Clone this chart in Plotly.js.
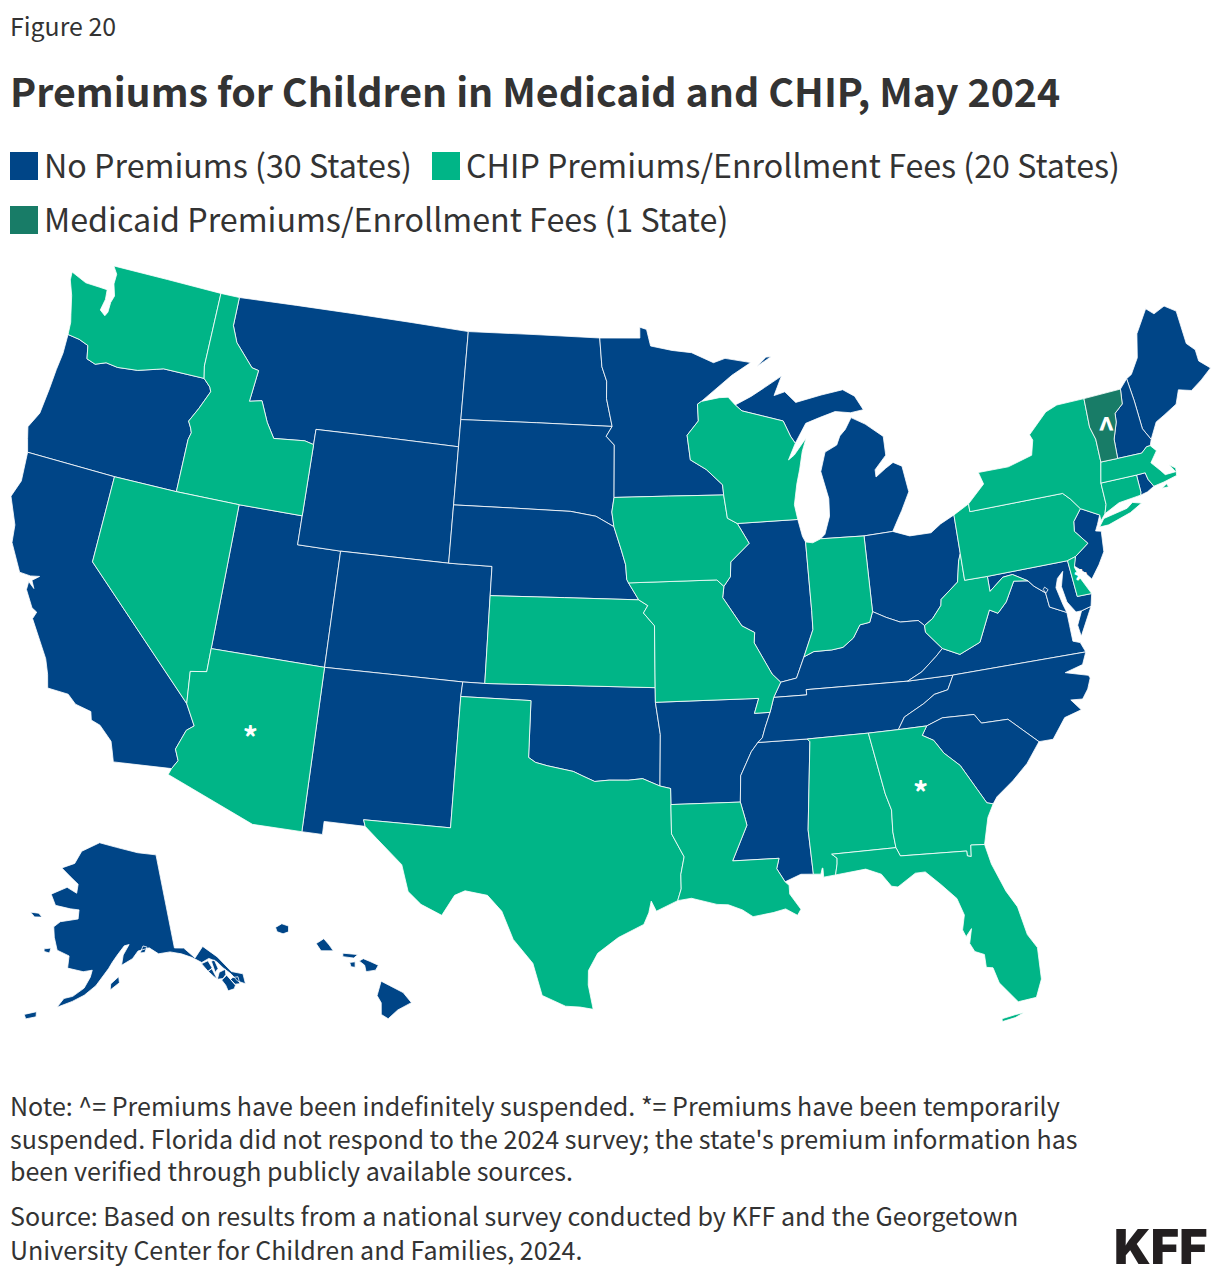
<!DOCTYPE html>
<html><head><meta charset="utf-8">
<script src="https://cdn.plot.ly/plotly-3.0.1.min.js"></script>
<style>html,body{margin:0;padding:0;background:#fff}#c{width:1220px;height:1278px}g.geo{clip-path:none !important}</style></head>
<body><div id="c"></div>
<script>
const noPremiumStates=['AK','HI','OR','CA','MT','UT','WY','CO','NM','ND','SD','NE','OK','AR','MN','MS','MI','IL','OH','KY','TN','VA','NC','SC','ME','NH','NJ','MD','DC','RI'];
const chipStates=['WA','ID','NV','AZ','TX','KS','MO','IA','WI','IN','LA','AL','GA','FL','WV','PA','NY','CT','MA','DE'];
const medicaidStates=['VT'];
const markLon=[-111.7,-83.75,-75.45,-72.68];
const markLat=[34.1,32.62,38.8,43.7];
const markText=['*','*','*','^'];
const legendLabels=['No Premiums (30 States)','CHIP Premiums/Enrollment Fees (20 States)','Medicaid Premiums/Enrollment Fees (1 State)'];
const colors=['#004587','#00B587','#187C67'];
const noteLines=["Note: ^= Premiums have been indefinitely suspended. *= Premiums have been temporarily","suspended. Florida did not respond to the 2024 survey; the state's premium information has","been verified through publicly available sources."];
const sourceLines=["Source: Based on results from a national survey conducted by KFF and the Georgetown","University Center for Children and Families, 2024."];

// Base map: state outlines in degrees [lon,lat]
const outlines={
WA:[[[-124.73,48.38],[-123.9,48.16],[-123.15,48.15],[-122.75,48.14],[-122.7,47.8],[-122.8,47.4],[-122.5,47.25],[-122.4,47.4],[-122.4,47.75],[-122.3,48.0],[-122.5,48.4],[-122.5,48.75],[-122.76,49],[-117.03,49],[-117.04,46.42],[-116.92,46],[-118.98,46],[-119.3,45.93],[-120.2,45.73],[-121.2,45.65],[-121.8,45.7],[-122.3,45.55],[-122.76,45.65],[-122.9,46.1],[-123.4,46.22],[-124,46.27],[-124.05,46.7],[-124.15,46.95],[-124.4,47.6],[-124.7,48.1]]],
OR:[[[-124,46.27],[-123.4,46.22],[-122.9,46.1],[-122.76,45.65],[-122.3,45.55],[-121.8,45.7],[-121.2,45.65],[-120.2,45.73],[-119.3,45.93],[-118.98,46],[-116.92,46],[-116.55,45.75],[-116.46,45.6],[-116.85,44.95],[-117.2,44.45],[-117.03,44.23],[-116.95,44.08],[-117.03,43.83],[-117.03,42],[-120,42],[-124.21,42],[-124.4,42.45],[-124.55,42.84],[-124.2,43.4],[-124.1,44.3],[-124.05,45],[-123.97,45.6]]],
CA:[[[-124.21,42],[-120,42],[-120,39],[-114.63,35],[-114.14,34.3],[-114.43,34.1],[-114.72,33.4],[-114.52,33.03],[-114.72,32.72],[-117.12,32.53],[-117.25,32.85],[-117.4,33.2],[-118,33.65],[-118.4,33.75],[-118.5,34.03],[-119.2,34.15],[-119.6,34.42],[-120.5,34.45],[-120.65,34.9],[-120.9,35.4],[-121.9,36.6],[-121.8,36.85],[-122.05,36.95],[-122.5,37.5],[-122.5,37.78],[-122.2,37.6],[-122.38,37.85],[-122.1,38.05],[-122.5,37.98],[-123,38],[-123.7,38.9],[-123.8,39.5],[-124.35,40.4],[-124.1,41]]],
NV:[[[-120,42],[-117.03,42],[-114.04,42],[-114.05,37],[-114.05,36.2],[-114.75,36.1],[-114.63,35],[-120,39]]],
AZ:[[[-114.72,32.72],[-114.81,32.5],[-111.07,31.33],[-109.05,31.33],[-109.05,37],[-114.05,37],[-114.05,36.2],[-114.75,36.1],[-114.63,35],[-114.14,34.3],[-114.43,34.1],[-114.72,33.4],[-114.52,33.03]]],
ID:[[[-117.03,49],[-116.05,49],[-116.05,48],[-115.7,47.45],[-114.7,46.7],[-114.35,46.65],[-114.5,45.55],[-113.9,45.65],[-113.45,44.95],[-113,44.45],[-111.5,44.55],[-111.05,44.47],[-111.05,42],[-114.04,42],[-117.03,42],[-117.03,43.83],[-116.95,44.08],[-117.03,44.23],[-117.2,44.45],[-116.85,44.95],[-116.46,45.6],[-116.55,45.75],[-116.92,46],[-117.04,46.42]]],
MT:[[[-116.05,49],[-104.05,49],[-104.05,45.94],[-104.05,45],[-111.05,45],[-111.05,44.47],[-111.5,44.55],[-113,44.45],[-113.45,44.95],[-113.9,45.65],[-114.5,45.55],[-114.35,46.65],[-114.7,46.7],[-115.7,47.45],[-116.05,48]]],
WY:[[[-111.05,45],[-104.05,45],[-104.05,43],[-104.05,41],[-109.05,41],[-111.05,41],[-111.05,42],[-111.05,44.47]]],
UT:[[[-114.04,42],[-111.05,42],[-111.05,41],[-109.05,41],[-109.05,37],[-114.05,37]]],
CO:[[[-109.05,41],[-104.05,41],[-102.05,41],[-102.05,40],[-102.04,37],[-103,37],[-109.05,37]]],
NM:[[[-109.05,37],[-103,37],[-103.04,36.5],[-103.06,32],[-106.62,32],[-106.53,31.78],[-108.21,31.78],[-108.21,31.33],[-109.05,31.33]]],
ND:[[[-104.05,49],[-97.23,49],[-97.1,48],[-96.85,47.5],[-96.85,46.9],[-96.56,45.94],[-104.05,45.94]]],
SD:[[[-104.05,45.94],[-96.56,45.94],[-96.85,45.6],[-96.45,45.3],[-96.45,43.5],[-96.55,43],[-96.45,42.5],[-97.3,42.85],[-98.5,43],[-104.05,43],[-104.05,45]]],
NE:[[[-104.05,43],[-98.5,43],[-97.3,42.85],[-96.45,42.5],[-96.1,41.7],[-95.9,41.2],[-95.85,40.7],[-95.77,40.58],[-95.31,40],[-102.05,40],[-102.05,41],[-104.05,41]]],
KS:[[[-102.05,40],[-95.31,40],[-94.9,39.8],[-95.1,39.55],[-94.61,39.11],[-94.62,37],[-102.04,37]]],
OK:[[[-103,37],[-102.04,37],[-94.62,37],[-94.62,36.5],[-94.43,35.4],[-94.48,33.64],[-95.2,33.9],[-95.8,33.85],[-96.6,33.85],[-97.2,33.8],[-97.7,33.98],[-98.1,34.13],[-99.2,34.3],[-99.7,34.4],[-100,34.56],[-100,36.5],[-103.04,36.5]]],
TX:[[[-106.62,32],[-103.06,32],[-103.04,36.5],[-100,36.5],[-100,34.56],[-99.7,34.4],[-99.2,34.3],[-98.1,34.13],[-97.7,33.98],[-97.2,33.8],[-96.6,33.85],[-95.8,33.85],[-95.2,33.9],[-94.48,33.64],[-94.04,33.55],[-94.04,33],[-94.04,32],[-93.55,31.2],[-93.7,30.6],[-93.7,30.1],[-93.85,29.7],[-94.7,29.35],[-94.9,29.7],[-95,29.3],[-95.2,28.9],[-96.2,28.45],[-97,27.9],[-97.35,27.3],[-97.35,26.8],[-97.15,25.96],[-97.65,26.03],[-98.2,26.05],[-99.1,26.4],[-99.5,27.5],[-100.3,28.3],[-100.8,29.25],[-101.4,29.77],[-102.3,29.88],[-102.7,29.7],[-103.15,28.98],[-104,29.3],[-104.55,29.7],[-104.9,30.6],[-106,31.4],[-106.53,31.78]]],
MN:[[[-97.23,49],[-95.15,49],[-95.15,49.38],[-94.8,49.3],[-94.6,48.72],[-93.5,48.55],[-92.5,48.45],[-91.4,48.07],[-90.8,48.2],[-89.5,48],[-90.5,47.6],[-92.1,46.75],[-92.3,46.66],[-92.29,46.08],[-92.87,45.6],[-92.75,44.75],[-92,44.4],[-91.25,43.85],[-91.22,43.5],[-96.45,43.5],[-96.45,45.3],[-96.85,45.6],[-96.56,45.94],[-96.85,46.9],[-96.85,47.5],[-97.1,48]]],
IA:[[[-96.45,43.5],[-91.22,43.5],[-91.1,42.7],[-90.65,42.5],[-90.15,41.8],[-91.05,41.2],[-91.1,40.7],[-91.42,40.38],[-91.73,40.61],[-95.77,40.58],[-95.85,40.7],[-95.9,41.2],[-96.1,41.7],[-96.45,42.5],[-96.55,43]]],
MO:[[[-95.77,40.58],[-91.73,40.61],[-91.42,40.38],[-91.5,40],[-90.7,39],[-90.15,38.75],[-90.2,38.4],[-89.5,37.3],[-89.15,37],[-89.5,36.5],[-89.7,36],[-90.37,36],[-90.15,36.5],[-94.62,36.5],[-94.62,37],[-94.61,39.11],[-95.1,39.55],[-94.9,39.8],[-95.31,40]]],
AR:[[[-94.62,36.5],[-90.15,36.5],[-90.37,36],[-89.7,36],[-89.95,35.5],[-90.1,35.15],[-90.3,35],[-90.6,34.7],[-91.1,33.9],[-91.17,33],[-94.04,33],[-94.04,33.55],[-94.48,33.64],[-94.43,35.4]]],
LA:[[[-94.04,33],[-91.17,33],[-91,32.4],[-90.95,32.2],[-91.6,31],[-89.73,31],[-89.85,30.65],[-89.55,30.18],[-89.4,30.05],[-89.4,29.75],[-89,29.2],[-89.15,29],[-89.6,29.25],[-90.1,29.15],[-90.9,29.05],[-91.3,29.3],[-91.85,29.5],[-92.3,29.53],[-93.3,29.77],[-93.85,29.7],[-93.7,30.1],[-93.7,30.6],[-93.55,31.2],[-94.04,32]]],
MS:[[[-91.17,33],[-91.1,33.9],[-90.6,34.7],[-90.3,35],[-88.2,35],[-88.1,34.9],[-88.47,31.9],[-88.4,30.37],[-88.9,30.4],[-89.55,30.18],[-89.85,30.65],[-89.73,31],[-91.6,31],[-90.95,32.2],[-91,32.4]]],
AL:[[[-88.2,35],[-85.6,35],[-85.18,32.87],[-85,32.3],[-85.05,31.55],[-85,31],[-87.6,31],[-87.4,30.85],[-87.42,30.65],[-87.52,30.28],[-88,30.24],[-88,30.55],[-88.03,30.55],[-88.1,30.35],[-88.4,30.37],[-88.47,31.9],[-88.1,34.9]]],
GA:[[[-85.6,35],[-84.32,35],[-83.11,35],[-83.35,34.7],[-82.9,34.48],[-82.55,34],[-81.95,33.5],[-81.4,32.6],[-81.1,32.1],[-80.85,32.03],[-81.15,31.6],[-81.45,30.7],[-82,30.75],[-82.05,30.36],[-82.2,30.4],[-82.2,30.57],[-84.86,30.7],[-85,31],[-85.05,31.55],[-85,32.3],[-85.18,32.87]]],
FL:[[[-87.52,30.28],[-87.42,30.65],[-87.4,30.85],[-87.6,31],[-85,31],[-84.86,30.7],[-82.2,30.57],[-82.2,30.4],[-82.05,30.36],[-82,30.75],[-81.45,30.7],[-81.3,30],[-80.9,29],[-80.55,28.4],[-80.35,27.4],[-80.05,26.9],[-80.1,25.8],[-80.4,25.2],[-81.1,25.15],[-81.7,25.9],[-81.85,26.45],[-82.1,26.5],[-82.1,26.95],[-82.45,27.1],[-82.6,27.4],[-82.45,27.9],[-82.7,27.65],[-82.8,27.9],[-82.65,28.4],[-82.85,29],[-83.4,29.55],[-83.95,30.05],[-84.35,30.05],[-85.1,29.65],[-85.35,29.7],[-85.7,30.15],[-86.3,30.38]],[[-81.8,24.55],[-81.3,24.62],[-80.95,24.75],[-81.3,24.72],[-81.8,24.65]]],
SC:[[[-83.11,35],[-82.4,35.2],[-81.05,35.15],[-80.8,34.82],[-79.67,34.8],[-78.55,33.86],[-79.2,33.2],[-79.9,32.7],[-80.65,32.25],[-80.85,32.03],[-81.1,32.1],[-81.4,32.6],[-81.95,33.5],[-82.55,34],[-82.9,34.48],[-83.35,34.7]]],
NC:[[[-84.32,35],[-83.11,35],[-82.4,35.2],[-81.05,35.15],[-80.8,34.82],[-79.67,34.8],[-78.55,33.86],[-77.95,33.85],[-77.3,34.5],[-76.55,34.65],[-76.9,35.05],[-76.4,35],[-76.1,35.3],[-75.9,35.65],[-75.95,35.75],[-76.9,36],[-76.1,36.15],[-75.85,36.55],[-81.68,36.59],[-82,36.12],[-82.6,36.03],[-83.1,35.77],[-84,35.4]]],
TN:[[[-90.3,35],[-88.2,35],[-85.6,35],[-84.32,35],[-84,35.4],[-83.1,35.77],[-82.6,36.03],[-82,36.12],[-81.68,36.59],[-83.67,36.6],[-88.07,36.68],[-88.07,36.5],[-89.5,36.5],[-89.7,36],[-89.95,35.5],[-90.1,35.15]]],
KY:[[[-89.5,36.5],[-88.07,36.5],[-88.07,36.68],[-83.67,36.6],[-83,36.85],[-82.3,37.3],[-81.97,37.54],[-82.6,38.17],[-82.6,38.4],[-82.85,38.6],[-83.65,38.63],[-84.25,38.85],[-84.82,39.1],[-85,38.75],[-85.45,38.7],[-85.8,38.28],[-86.3,38],[-86.8,37.95],[-87.6,37.95],[-88.05,37.8],[-88.45,37.1],[-89.15,37]]],
IL:[[[-87.8,42.49],[-90.65,42.5],[-90.15,41.8],[-91.05,41.2],[-91.1,40.7],[-91.42,40.38],[-91.5,40],[-90.7,39],[-90.15,38.75],[-90.2,38.4],[-89.5,37.3],[-89.15,37],[-88.45,37.1],[-88.05,37.8],[-87.55,38.7],[-87.53,39.35],[-87.53,41.7],[-87.65,41.9]]],
WI:[[[-90.65,42.5],[-87.8,42.49],[-87.9,43],[-87.7,43.7],[-87.5,44.2],[-87.3,44.8],[-87.05,45.25],[-87.7,44.7],[-88,44.55],[-87.6,45.1],[-87.8,45.35],[-88.1,45.9],[-89.1,46.13],[-90.1,46.35],[-90.42,46.57],[-90.75,46.85],[-91.2,46.85],[-92.1,46.75],[-92.3,46.66],[-92.29,46.08],[-92.87,45.6],[-92.75,44.75],[-92,44.4],[-91.25,43.85],[-91.22,43.5],[-91.1,42.7]]],
MI:[[[-86.82,41.76],[-84.8,41.7],[-83.45,41.73],[-83.15,42.1],[-82.9,42.4],[-82.45,43],[-82.6,43.9],[-83,44.07],[-83.4,43.9],[-83.9,43.65],[-83.9,43.9],[-83.3,44.35],[-83.3,45],[-84.1,45.5],[-84.75,45.78],[-85.1,45.4],[-85.4,45.2],[-85.6,44.9],[-86.2,44.7],[-86.5,44.05],[-86.25,43.1],[-86.3,42.5],[-86.6,41.9]],[[-90.42,46.57],[-90.1,46.35],[-89.1,46.13],[-88.1,45.9],[-87.8,45.35],[-87.6,45.1],[-87,45.75],[-86.3,45.9],[-85.5,46.05],[-84.75,45.95],[-84.1,46],[-84.45,46.5],[-85,46.77],[-86.1,46.67],[-87.4,46.5],[-87.9,46.9],[-88.45,46.8],[-88,47.45],[-88.9,47.1],[-89.6,46.83]],[[-89.2,47.85],[-88.45,48.15],[-88.7,48.15]]],
IN:[[[-87.53,41.7],[-87.2,41.65],[-86.82,41.76],[-84.8,41.7],[-84.82,39.1],[-85,38.75],[-85.45,38.7],[-85.8,38.28],[-86.3,38],[-86.8,37.95],[-87.6,37.95],[-88.05,37.8],[-87.55,38.7],[-87.53,39.35]]],
OH:[[[-84.8,41.7],[-83.45,41.73],[-82.7,41.5],[-81.7,41.5],[-81.2,41.75],[-80.52,41.98],[-80.52,40.64],[-80.65,40.4],[-80.85,39.7],[-81.7,39.2],[-81.75,39],[-82.2,38.6],[-82.6,38.4],[-82.85,38.6],[-83.65,38.63],[-84.25,38.85],[-84.82,39.1]]],
PA:[[[-80.52,41.98],[-79.76,42.27],[-79.76,42],[-75.35,42],[-75.05,41.75],[-74.7,41.36],[-75.13,40.98],[-75.2,40.65],[-74.72,40.15],[-75.4,39.8],[-75.79,39.72],[-79.48,39.72],[-80.52,39.72],[-80.52,40.64]]],
NY:[[[-79.76,42.27],[-78.9,42.85],[-79.05,43.27],[-77.6,43.27],[-76.4,43.5],[-76.2,44],[-76.3,44.2],[-75.3,44.85],[-74.7,45],[-73.34,45],[-73.4,44],[-73.25,43.55],[-73.27,42.75],[-73.5,42.05],[-73.5,41.3],[-73.65,41],[-73.9,40.8],[-73.9,41],[-74.7,41.36],[-75.05,41.75],[-75.35,42],[-79.76,42]],[[-74.03,40.6],[-73.75,40.85],[-72.6,41],[-72.3,41.15],[-71.9,41.05],[-72.5,40.83],[-73.6,40.6]]],
NJ:[[[-74.7,41.36],[-73.9,41],[-74.1,40.7],[-74.25,40.5],[-74,40.45],[-74.1,39.75],[-74.45,39.35],[-74.9,38.93],[-75.15,39.2],[-75.55,39.5],[-75.4,39.8],[-74.72,40.15],[-75.2,40.65],[-75.13,40.98]]],
DE:[[[-75.79,39.72],[-75.4,39.8],[-75.55,39.45],[-75.4,39.05],[-75.05,38.45],[-75.7,38.46]]],
MD:[[[-79.48,39.72],[-75.79,39.72],[-75.7,38.46],[-75.05,38.45],[-75.2,38.03],[-75.65,37.95],[-75.9,37.95],[-76.2,38.35],[-76.3,38.9],[-76.1,39.4],[-76.4,39.2],[-76.55,38.9],[-76.4,38.3],[-76.3,38],[-77,38.3],[-77.05,38.8],[-77.5,39.1],[-77.72,39.32],[-78.35,39.63],[-78.8,39.6],[-79.48,39.2]]],
DC:[[[-77.12,38.93],[-77.04,39],[-76.91,38.89],[-77.04,38.79]]],
VA:[[[-83.67,36.6],[-81.68,36.59],[-75.85,36.55],[-76,36.9],[-76.3,37],[-76.3,37.55],[-76.3,38],[-77,38.3],[-77.05,38.8],[-77.5,39.1],[-77.72,39.32],[-78.35,39.4],[-78.85,38.75],[-79.3,38.42],[-79.65,38.58],[-80.3,37.55],[-81.25,37.25],[-81.97,37.54],[-82.3,37.3],[-83,36.85]],[[-75.65,37.95],[-75.2,38.03],[-75.9,37.1],[-75.95,37.5]]],
WV:[[[-80.52,40.64],[-80.52,39.72],[-79.48,39.72],[-79.48,39.2],[-78.8,39.6],[-78.35,39.63],[-77.72,39.32],[-78.35,39.4],[-78.85,38.75],[-79.3,38.42],[-79.65,38.58],[-80.3,37.55],[-81.25,37.25],[-81.97,37.54],[-82.6,38.17],[-82.6,38.4],[-82.2,38.6],[-81.75,39],[-81.7,39.2],[-80.85,39.7],[-80.65,40.4]]],
CT:[[[-73.5,42.05],[-71.8,42.02],[-71.8,41.42],[-71.85,41.32],[-72.9,41.25],[-73.65,41],[-73.5,41.3]]],
RI:[[[-71.8,42.02],[-71.38,42.02],[-71.33,41.78],[-71.15,41.5],[-71.5,41.37],[-71.85,41.32],[-71.8,41.42]]],
MA:[[[-73.5,42.05],[-73.27,42.75],[-72.46,42.73],[-71.3,42.7],[-71,42.87],[-70.82,42.87],[-70.6,42.65],[-71,42.3],[-70.65,41.95],[-70.5,41.78],[-70,41.78],[-70.2,42.07],[-69.95,41.9],[-70,41.65],[-70.65,41.55],[-71.15,41.5],[-71.33,41.78],[-71.38,42.02],[-71.8,42.02]],[[-70.8,41.36],[-70.5,41.35],[-70.55,41.47]]],
VT:[[[-73.34,45],[-71.5,45.01],[-71.6,44.5],[-72.05,44.25],[-72.1,43.95],[-72.4,43.4],[-72.46,42.73],[-73.27,42.75],[-73.25,43.55],[-73.4,44]]],
NH:[[[-71.5,45.01],[-71.08,45.3],[-71,44.5],[-70.97,43.5],[-70.7,43.07],[-70.82,42.87],[-71,42.87],[-71.3,42.7],[-72.46,42.73],[-72.4,43.4],[-72.1,43.95],[-72.05,44.25],[-71.6,44.5]]],
ME:[[[-71.08,45.3],[-70.8,45.4],[-70.3,45.9],[-70,46.7],[-69.23,47.45],[-68.9,47.2],[-68.3,47.36],[-67.79,47.07],[-67.78,45.9],[-67.45,45.6],[-67.45,45.2],[-67,44.85],[-67.6,44.55],[-68.2,44.3],[-68.8,44.45],[-69.1,44],[-69.8,43.75],[-70.25,43.6],[-70.7,43.07],[-70.97,43.5],[-71,44.5]]],
AK:[[[-141,69.65],[-141,60.3],[-139.2,60.1],[-137.5,58.9],[-135.5,59.8],[-133.4,58.4],[-131.8,56.6],[-130,56],[-130.2,55],[-131.3,55.5],[-132,56.4],[-133,57.2],[-133.8,58],[-135,58.5],[-136.5,58.3],[-138,59],[-139.9,59.6],[-142,60],[-144.3,60],[-146,60.7],[-148.3,60.5],[-149.5,59.8],[-151.7,59.2],[-151.3,60.2],[-150,61.2],[-151,61.1],[-152.5,60.2],[-153.5,59.5],[-154.2,58.9],[-156.5,57.2],[-158.5,56.2],[-160.5,55.5],[-163,54.75],[-162,55.7],[-160.5,56],[-158.6,56.9],[-157.6,58],[-157.3,58.7],[-159,58.5],[-162,58.7],[-162,59.9],[-164.5,60.3],[-165.5,61.5],[-166,62.5],[-164.8,63.1],[-161,63.6],[-161,64.5],[-163,64.5],[-166.5,64.6],[-168,65.6],[-164.5,66.55],[-162,66.1],[-161.9,67],[-164,67.6],[-166.7,68.35],[-163.5,69],[-162,70.3],[-157,71.3],[-152,70.85],[-146,70.15]],[[-153.8,57.4],[-152.3,58.1],[-152.2,57.5],[-153.9,56.8]],[[-167.1,60.2],[-165.8,60.4],[-165.9,59.9],[-167,59.95]],[[-171.6,63.4],[-169.8,63.5],[-168.9,63.2],[-170.5,63.05]],[[-168.2,53.5],[-166.3,54],[-166.2,53.5],[-167.8,53.1]],[[-136.6,58.2],[-135.3,58.3],[-134.9,57.5],[-135.8,57.3]],[[-135.8,57.3],[-135,57.45],[-134.6,56.3],[-135.1,56.7]],[[-134.7,58.15],[-134.1,58.2],[-133.9,57.3],[-134.6,57]],[[-134.6,56.3],[-133.9,56.9],[-132.7,57],[-132.9,56.5],[-133.6,56.2]],[[-133.9,56.1],[-132.8,56.4],[-131.9,55.2],[-132.3,54.9],[-133.4,54.9],[-133.5,55.5]],[[-132.4,55.9],[-131.9,56],[-131,55.9],[-131.1,55.2],[-131.9,55.3]],[[-147.2,60.95],[-146.4,60.8],[-147,60.3],[-147.9,60.3]]],
HI:[[[-155.9,20.25],[-155.6,20.1],[-155.1,19.85],[-154.8,19.5],[-155.3,19.25],[-155.65,18.95],[-155.9,19.1],[-155.9,19.5],[-156.05,19.75]],[[-156.7,20.95],[-156.55,21.03],[-156.3,20.93],[-156,20.8],[-156.1,20.63],[-156.45,20.58],[-156.5,20.8]],[[-157.3,21.1],[-157.3,21.22],[-156.75,21.17],[-156.9,21.05]],[[-157.05,20.9],[-156.85,20.92],[-156.85,20.73],[-157,20.75]],[[-158.28,21.55],[-158,21.72],[-157.8,21.5],[-157.65,21.3],[-158.1,21.3]],[[-159.78,22.1],[-159.55,22.23],[-159.3,22.15],[-159.3,21.95],[-159.5,21.88],[-159.72,21.95]]]
};

// Hand the outlines to Plotly as its USA base map, since no map file can be fetched.
const arcs=[];
const geometries=Object.keys(outlines).map(id=>({type:'MultiPolygon',id,properties:{gu:'USA',name:id},arcs:outlines[id].map(ring=>{
  let r=ring.slice(),a=0;
  for(let i=0;i<r.length;i++){const p=r[i],q=r[(i+1)%r.length];a+=p[0]*q[1]-q[0]*p[1];}
  if(a>0)r.reverse();
  r.push(r[0]);arcs.push(r);return [[arcs.length-1]];
})}));
const empty={type:'GeometryCollection',geometries:[]};
window.PlotlyGeoAssets=window.PlotlyGeoAssets||{topojson:{}};
window.PlotlyGeoAssets.topojson.usa_110m={type:'Topology',arcs,objects:{subunits:{type:'GeometryCollection',geometries},land:empty,countries:empty,coastlines:empty,ocean:empty,lakes:empty,rivers:empty}};

const locations=[...noPremiumStates,...chipStates,...medicaidStates];
const z=[...noPremiumStates.map(()=>0),...chipStates.map(()=>1),...medicaidStates.map(()=>2)];
const data=[
{type:'choropleth',locationmode:'USA-states',locations,z,zmin:0,zmax:2,showscale:false,hoverinfo:'location',
 colorscale:[[0,colors[0]],[0.33,colors[0]],[0.33,colors[1]],[0.66,colors[1]],[0.66,colors[2]],[1,colors[2]]],
 marker:{line:{color:'#fff',width:0.8}}},
{type:'scattergeo',mode:'text',lon:markLon,lat:markLat,text:markText,textposition:'middle center',hoverinfo:'skip',
 textfont:{family:'"Noto Sans CJK SC"',size:30,color:'#fff',weight:700}}
];
const FONT='"Noto Sans CJK SC","Noto Sans",sans-serif';
const INK='#333333';
const px=x=>x/1220, py=y=>1-y/1278;
function label(text,x,y,size,extra){return Object.assign({text,x:px(x),y:py(y),xref:'paper',yref:'paper',xanchor:'left',yanchor:'middle',align:'left',showarrow:false,borderpad:0,font:{family:FONT,size,color:INK}},extra||{});}
const annotations=[
 label('Figure 20',9,25,24.9),
 Object.assign(label('Premiums for Children in Medicaid and CHIP, May 2024',8.5,89,39.35),{font:{family:FONT,size:39.35,color:INK,weight:700}}),
 label(legendLabels[0],42.5,164,32.25),
 label(legendLabels[1],465,164,32.2),
 label(legendLabels[2],42.5,218,32.25),
 label(noteLines.join('<br>'),9,1137.5,25.05),
 ...sourceLines.map((t,i)=>label(t,9,[1215,1249][i],25.05)),
 {text:'KFF',x:px(1208),y:py(1246),xref:'paper',yref:'paper',xanchor:'right',yanchor:'middle',showarrow:false,borderpad:0,font:{family:'Inter,"Liberation Sans",sans-serif',size:48.5,color:'#231f20',weight:900}}
];
const swatch=(x,y,c)=>({type:'rect',xref:'paper',yref:'paper',x0:px(x),x1:px(x+28),y0:py(y+28),y1:py(y),fillcolor:c,line:{width:0}});
const layout={width:1220,height:1278,margin:{l:0,r:0,t:0,b:0},showlegend:false,paper_bgcolor:'#fff',
 annotations,shapes:[swatch(10,152,colors[0]),swatch(432,152,colors[1]),swatch(10,206,colors[2])],
 geo:{scope:'usa',projection:{type:'albers usa',scale:1.2415},domain:{x:[0,1],y:[0.1758,0.8258]},bgcolor:'rgba(0,0,0,0)',showland:false,showlakes:false,showsubunits:false,showcountries:false,showcoastlines:false,showframe:false}};
Plotly.newPlot('c',data,layout,{displayModeBar:false,staticPlot:false});
</script></body></html>
